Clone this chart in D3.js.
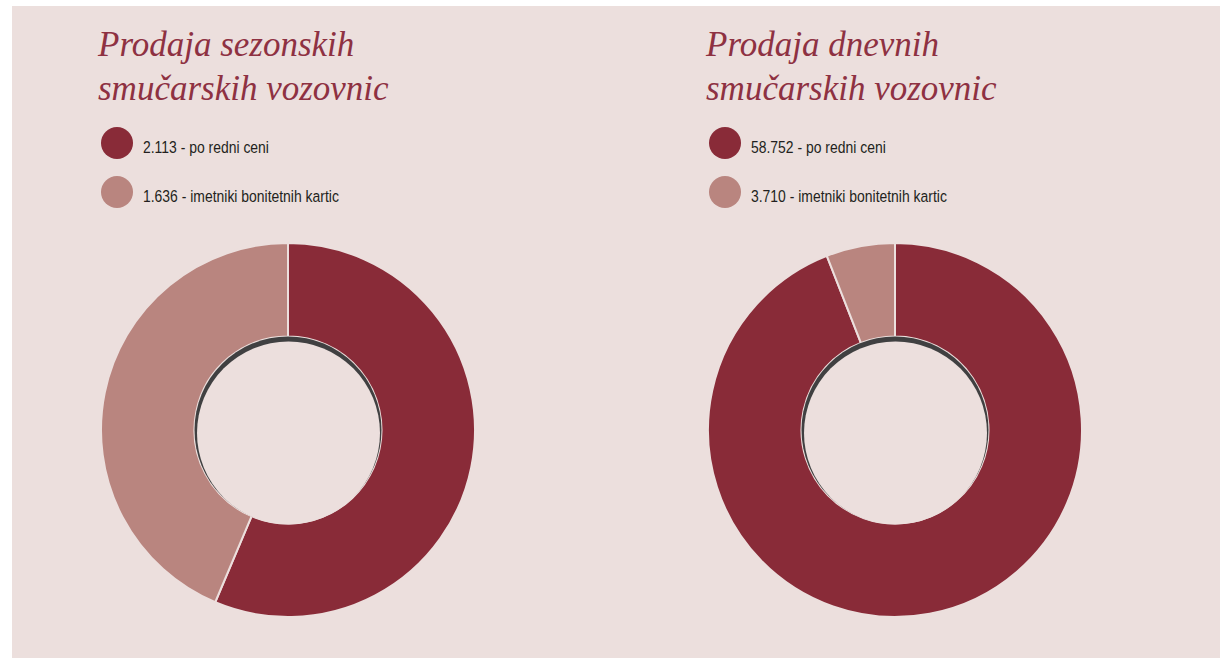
<!DOCTYPE html>
<html>
<head>
<meta charset="utf-8">
<script src="https://cdn.jsdelivr.net/npm/d3@7"></script>
<style>
    body { margin: 0; background: #ffffff; }
    #chart { width: 1220px; height: 663px; }
</style>
</head>
<body>
<div id="chart"></div>
<script>
// data
let categories = ["po redni ceni", "imetniki bonitetnih kartic"];
let titles = [["Prodaja sezonskih", "smučarskih vozovnic"], ["Prodaja dnevnih", "smučarskih vozovnic"]];
let seasonalValues = [2113, 1636];
let dailyValues = [58752, 3710];
let valueLabels = [["2.113", "1.636"], ["58.752", "3.710"]];

let colors = ["#892b38", "#b9857f"];
let bg = "#ecdfdd";

let width = 1220, height = 663;

let svg = d3.select("#chart").append("svg")
    .attr("width", width)
    .attr("height", height);

// panel background
svg.append("rect")
    .attr("x", 12).attr("y", 6)
    .attr("width", width - 12).attr("height", 652)
    .attr("fill", bg);

let panels = [
    {values: seasonalValues, cx: 288, titleX: 98, legendX: 117},
    {values: dailyValues, cx: 895, titleX: 706, legendX: 725}
];

let outerR = 187, innerR = 93.5, cy = 430;

let pie = d3.pie().sort(null).value(d => d);
let arc = d3.arc().innerRadius(innerR).outerRadius(outerR);

panels.forEach((p, i) => {
    let g = svg.append("g");

    // title
    let title = g.append("text")
        .attr("x", p.titleX)
        .attr("y", 56)
        .attr("fill", "#8e3142")
        .style("font-family", "'Liberation Serif', serif")
        .style("font-style", "italic")
        .style("font-size", "35px");
    titles[i].forEach((line, j) => {
        title.append("tspan")
            .attr("x", p.titleX)
            .attr("dy", j === 0 ? 0 : 44)
            .text(line);
    });

    // legend
    categories.forEach((c, j) => {
        g.append("circle")
            .attr("cx", p.legendX)
            .attr("cy", 143 + j * 49)
            .attr("r", 16)
            .attr("fill", colors[j]);
        // condensed look: squeeze horizontally
        g.append("text")
            .attr("transform", "translate(" + (p.legendX + 26) + "," + (153 + j * 49) + ") scale(0.82,1)")
            .attr("fill", "#231f20")
            .style("font-family", "'Liberation Sans', sans-serif")
            .style("font-size", "17px")
            .text(valueLabels[i][j] + " - " + c);
    });

    // donut
    let donut = svg.append("g")
        .attr("transform", "translate(" + p.cx + "," + cy + ")");

    donut.selectAll("path")
        .data(pie(p.values))
        .enter()
        .append("path")
        .attr("d", arc)
        .attr("fill", (d, j) => colors[j])
        .attr("stroke", bg)
        .attr("stroke-width", 2);

    // inner shadow ring
    donut.append("circle")
        .attr("cx", 0).attr("cy", 0)
        .attr("r", innerR)
        .attr("fill", "#404041");
    donut.append("circle")
        .attr("cx", 0.5).attr("cy", 3)
        .attr("r", innerR - 2)
        .attr("fill", bg);
});
</script>
</body>
</html>
